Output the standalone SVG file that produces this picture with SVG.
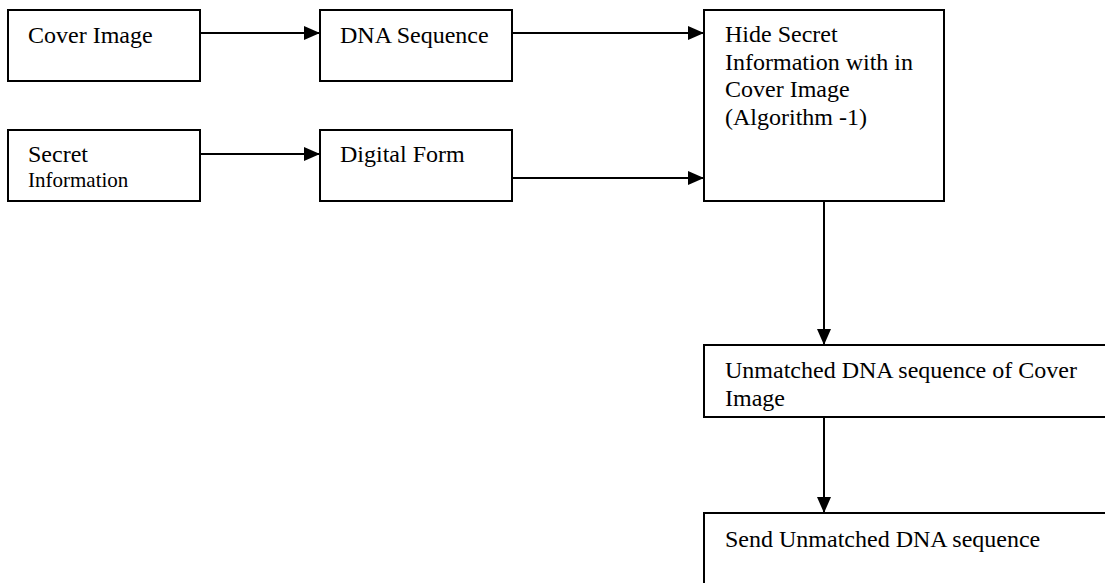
<svg xmlns="http://www.w3.org/2000/svg" width="1105" height="583" viewBox="0 0 1105 583">
<defs>
<marker id="arr" markerWidth="16" markerHeight="14" refX="16" refY="7" orient="auto" markerUnits="userSpaceOnUse">
<path d="M0,0 L16,7 L0,14 Z" fill="#000"/>
</marker>
<style>
.box{fill:#fff;stroke:#000;stroke-width:2}
.t{font-family:"Liberation Serif","Times New Roman",serif;font-size:24px;fill:#000}
.s{font-size:21px}
.c{fill:none;stroke:#000;stroke-width:2;marker-end:url(#arr)}
</style>
</defs>
<rect width="1105" height="583" fill="#fff"/>
<g id="cover-image"><rect class="box" x="8" y="10" width="192" height="71"/><text class="t" x="28" y="43">Cover Image</text></g>
<g id="secret-information"><rect class="box" x="8" y="130" width="192" height="71"/><text class="t" x="28" y="162">Secret</text><text class="t s" x="28" y="187">Information</text></g>
<g id="dna-sequence"><rect class="box" x="320" y="10" width="192" height="71"/><text class="t" x="340" y="43">DNA Sequence</text></g>
<g id="digital-form"><rect class="box" x="320" y="130" width="192" height="71"/><text class="t" x="340" y="162">Digital Form</text></g>
<g id="hide-secret"><rect class="box" x="704" y="10" width="240" height="191"/><text class="t" x="725" y="42">Hide Secret</text><text class="t" x="725" y="69.5">Information with in</text><text class="t" x="725" y="97">Cover Image</text><text class="t" x="725" y="124.5">(Algorithm -1)</text></g>
<g id="unmatched"><rect class="box" x="704" y="345" width="420" height="72"/><text class="t" x="725" y="378">Unmatched DNA sequence of Cover</text><text class="t" x="725" y="406">Image</text></g>
<g id="send"><rect class="box" x="704" y="513" width="420" height="100"/><text class="t" x="725" y="547">Send Unmatched DNA sequence</text></g>
<g id="connectors">
<line class="c" x1="200" y1="33" x2="320" y2="33"/>
<line class="c" x1="200" y1="154" x2="320" y2="154"/>
<line class="c" x1="512" y1="33" x2="704" y2="33"/>
<line class="c" x1="512" y1="178" x2="704" y2="178"/>
<line class="c" x1="824" y1="201" x2="824" y2="345"/>
<line class="c" x1="824" y1="417" x2="824" y2="513"/>
</g>
</svg>
